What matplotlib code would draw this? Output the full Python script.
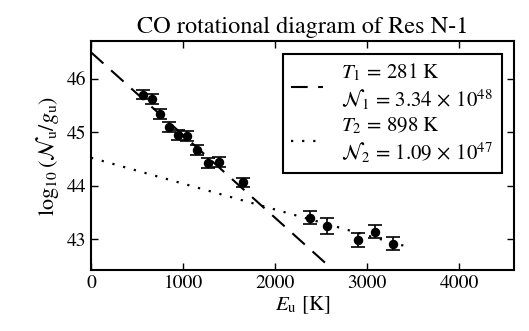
import numpy as np
import matplotlib
matplotlib.use("Agg")
import matplotlib.pyplot as plt

plt.rcParams['font.family'] = 'STIXGeneral'
plt.rcParams['mathtext.fontset'] = 'stix'
plt.rcParams['xtick.direction'] = 'in'
plt.rcParams['ytick.direction'] = 'in'
plt.rcParams['xtick.top'] = True
plt.rcParams['ytick.right'] = True

# level energies and column densities
Eu = [569, 659, 750, 848, 942, 1047, 1156, 1275, 1395, 1649,
      2380, 2562, 2906, 3087, 3279]
logN = [45.70, 45.62, 45.34, 45.09, 44.94, 44.92, 44.66, 44.42, 44.44, 44.06,
        43.40, 43.24, 42.98, 43.14, 42.91]
err = [0.09, 0.09, 0.09, 0.09, 0.09, 0.09, 0.09, 0.09, 0.09, 0.09,
       0.12, 0.15, 0.13, 0.12, 0.12]

# fitted components
T1, b1 = 281, 46.49
T2, b2 = 898, 44.52
lab1 = "$T_1\\,=\\,281$ K\n$\\mathcal{N}_1\\,=\\,3.34\\,\\times\\,10^{48}$"
lab2 = "$T_2\\,=\\,898$ K\n$\\mathcal{N}_2\\,=\\,1.09\\,\\times\\,10^{47}$"

fig = plt.figure(figsize=(5.29, 3.31), dpi=100)
ax = fig.add_axes([0.172, 0.184, 0.8, 0.692])

E = np.array([0, 3420])
ax.plot(E, b1 - np.log10(np.e) * E / T1, 'k', ls=(0, (8, 5)), lw=1.5, label=lab1)
ax.plot(E, b2 - np.log10(np.e) * E / T2, 'k', ls=(0, (1, 4)), lw=1.6, label=lab2)
ax.errorbar(Eu, logN, yerr=err, fmt='o', color='k', ms=5.8, capsize=5,
            elinewidth=1.2, capthick=1.2)

ax.set_xlim(0, 4600)
ax.set_ylim(42.42, 46.7)
ax.set_xticks([0, 1000, 2000, 3000, 4000])
ax.set_yticks([43, 44, 45, 46])
ax.tick_params(labelsize=14, length=5, width=1)
for s in ax.spines.values():
    s.set_linewidth(1.5)

ax.set_title("CO rotational diagram of Res N-1", fontsize=17.5)
ax.set_xlabel("$E_\\mathrm{u}$ [K]", fontsize=15, labelpad=2)
ax.set_ylabel("$\\log_{10}(\\mathcal{N}_\\mathrm{u}/g_\\mathrm{u})$", fontsize=16)

leg = ax.legend(loc='upper right', fontsize=15, fancybox=False, framealpha=1,
                edgecolor='k', handlelength=1.5, handletextpad=0.9,
                labelspacing=0.2, borderaxespad=0.6)
leg.get_frame().set_linewidth(1.5)

fig.savefig("out.png", dpi=100)
